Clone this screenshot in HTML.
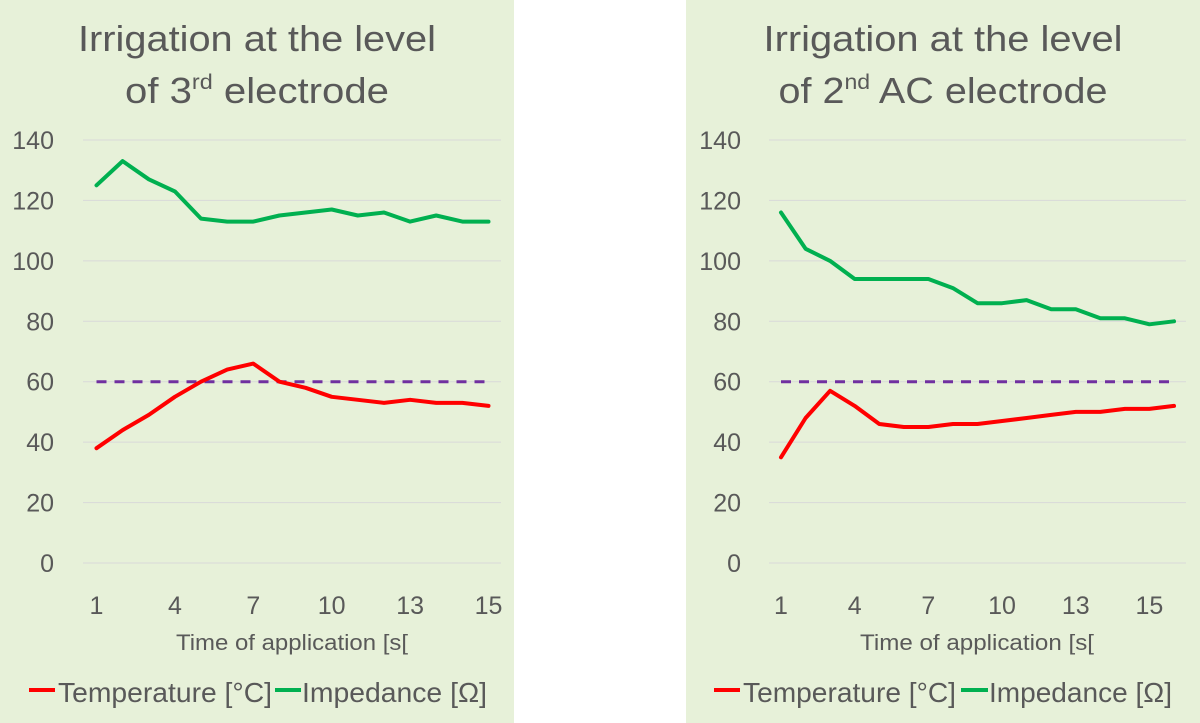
<!DOCTYPE html>
<html><head><meta charset="utf-8"><style>
html,body{margin:0;padding:0;background:#fff;width:1200px;height:723px;overflow:hidden}
svg{display:block}
text{font-family:"Liberation Sans",sans-serif;fill:#595959}
</style></head><body>
<svg id="root" width="1200" height="723" viewBox="0 0 1200 723">
<rect x="0" y="0" width="514" height="723" fill="#e7f1d9"/>
<rect x="686" y="0" width="514" height="723" fill="#e7f1d9"/>
<g>
<text x="257" y="51" text-anchor="middle" font-size="36" textLength="358" lengthAdjust="spacingAndGlyphs">Irrigation at the level</text>
<text x="257" y="103" text-anchor="middle" font-size="36" textLength="264" lengthAdjust="spacingAndGlyphs">of 3<tspan font-size="21" dy="-14">rd</tspan><tspan dy="14"> electrode</tspan></text>
</g>
<g>
<text x="943" y="51" text-anchor="middle" font-size="36" textLength="359" lengthAdjust="spacingAndGlyphs">Irrigation at the level</text>
<text x="943" y="103" text-anchor="middle" font-size="36" textLength="329" lengthAdjust="spacingAndGlyphs">of 2<tspan font-size="21" dy="-14">nd</tspan><tspan dy="14"> AC electrode</tspan></text>
</g>
<g id="left"></g>
<g id="right"></g>
</svg>
<script>
const yTicks = [0,20,40,60,80,100,120,140];
const threshold = 60;
const leftTickIdx = [0,3,6,9,12,15];
const leftTickLabels = ["1","4","7","10","13","15"];
const leftTemperature = [38,44,49,55,60,64,66,60,58,55,54,53,54,53,53,52];
const leftImpedance = [125,133,127,123,114,113,113,115,116,117,115,116,113,115,113,113];
const rightTickIdx = [0,3,6,9,12,15];
const rightTickLabels = ["1","4","7","10","13","15"];
const rightTemperature = [35,48,57,52,46,45,45,46,46,47,48,49,50,50,51,51,52];
const rightImpedance = [116,104,100,94,94,94,94,91,86,86,87,84,84,81,81,79,80];

const NS = "http://www.w3.org/2000/svg";
function mk(tag, attrs, parent){const e=document.createElementNS(NS,tag);for(const k in attrs)e.setAttribute(k,attrs[k]);parent.appendChild(e);return e;}

function drawChart(g, cfg, temp, imp, tickIdx, tickLabels){
  const n = Math.max(temp.length, imp.length);
  const yScale = v => cfg.y0 + (cfg.y140 - cfg.y0) * v / 140;
  const xScale = i => cfg.xFirst + (cfg.xLast - cfg.xFirst) * i / (n - 1);
  yTicks.forEach(t => {
    const l = mk('line',{x1:cfg.gx1,x2:cfg.gx2,y1:yScale(t),y2:yScale(t),stroke:'#d9d9d9','stroke-width':1},g);
    
    
    const tx = mk('text',{x:cfg.yLabelX,y:yScale(t)+9,'text-anchor':'end','font-size':25},g);
    tx.textContent = t;
    
    
  });
  tickIdx.forEach((idx,k) => {
    const tx = mk('text',{x:xScale(idx),y:614,'text-anchor':'middle','font-size':25},g);
    tx.textContent = tickLabels[k];
    
    
  });
  const th = mk('line',{x1:xScale(0),x2:xScale(n-1),y1:yScale(threshold),y2:yScale(threshold),stroke:'#7030a0','stroke-width':3,'stroke-dasharray':'10 8'},g);
  
  
  const pts = arr => arr.map((v,i)=>xScale(i).toFixed(1)+','+yScale(v).toFixed(1)).join(' ');
  const gi = mk('polyline',{points:pts(imp),fill:'none',stroke:'#00b050','stroke-width':4,'stroke-linejoin':'round','stroke-linecap':'round'},g);
  
  
  const rt = mk('polyline',{points:pts(temp),fill:'none',stroke:'#ff0000','stroke-width':4,'stroke-linejoin':'round','stroke-linecap':'round'},g);
  
  
  const at = mk('text',{x:cfg.axisTitleX,y:650,'text-anchor':'middle','font-size':22,textLength:cfg.axisTitleW,lengthAdjust:'spacingAndGlyphs'},g);
  at.textContent = 'Time of application [s[';
  
  
  const L = cfg.leg;
  const l1 = mk('line',{x1:L[0],x2:L[1],y1:690,y2:690,stroke:'#ff0000','stroke-width':4},g);
  
  
  const t1 = mk('text',{x:L[2],y:702,'font-size':28,textLength:L[3]-L[2],lengthAdjust:'spacingAndGlyphs'},g);
  t1.textContent = 'Temperature [°C]';
  
  
  const l2 = mk('line',{x1:L[4],x2:L[5],y1:690,y2:690,stroke:'#00b050','stroke-width':4},g);
  
  
  const t2 = mk('text',{x:L[6],y:702,'font-size':28,textLength:L[7]-L[6],lengthAdjust:'spacingAndGlyphs'},g);
  t2.textContent = 'Impedance [Ω]';
  
  
}

drawChart(document.getElementById('left'),
  {y0:563,y140:140,xFirst:96.5,xLast:488.5,gx1:83,gx2:501,yLabelX:54,axisTitleX:292,axisTitleW:232,
   leg:[29,55,58,272,275,301,302,487]},
  leftTemperature,leftImpedance,leftTickIdx,leftTickLabels);
drawChart(document.getElementById('right'),
  {y0:563,y140:140,xFirst:781,xLast:1174,gx1:769,gx2:1186,yLabelX:741,axisTitleX:977,axisTitleW:234,
   leg:[714,740,743,956,961,988,989,1172]},
  rightTemperature,rightImpedance,rightTickIdx,rightTickLabels);
</script>
</body></html>
